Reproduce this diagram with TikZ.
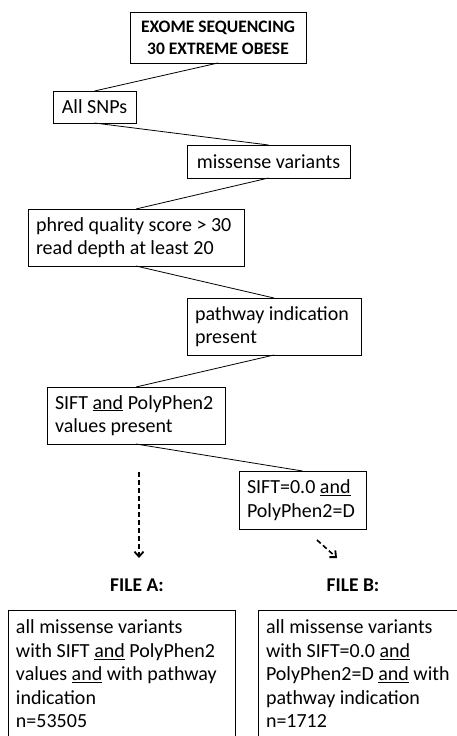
\documentclass[tikz,border=0pt]{standalone}
\usepackage{fontspec}
\setmainfont{Carlito}
\usetikzlibrary{arrows.meta, positioning}

\begin{document}
\begin{tikzpicture}[x=1pt, y=-1pt, outer sep=0pt, font=\fontsize{20}{23.5}\selectfont]

\tikzstyle{box}=[rectangle,draw,line width=0.8pt,anchor=north west,align=flush left,inner xsep=8pt,inner ysep=0pt]
\tikzstyle{stepbox}=[box,minimum height=57pt]
\tikzstyle{filebox}=[box,minimum height=128pt,font=\fontsize{20}{23.5}\selectfont]
\tikzstyle{flow}=[line width=0.8pt]
\tikzstyle{dasharrow}=[line width=1.6pt,dash pattern=on 5pt off 3pt,-{Straight Barb[length=5pt,width=9pt,line width=1.8pt]}]
\tikzstyle{filelabel}=[font=\fontsize{19.5}{22}\selectfont\bfseries]

\path[use as bounding box,clip] (0,0) rectangle (457,736);

\node[box,align=center,minimum width=176pt,minimum height=51pt,font=\fontsize{17.5}{22}\selectfont\bfseries] (exome) at (130,12) {EXOME SEQUENCING\\30 EXTREME OBESE};
\node[box,minimum width=83pt,minimum height=32pt] (snps) at (53,91) {All SNPs};
\node[box,minimum width=163pt,minimum height=33pt] (missense) at (187,145) {missense variants};
\node[stepbox,text width=200pt] (quality) at (28,209) {phred quality score > 30\\read depth at least 20};
\node[stepbox,text width=158pt] (pathway) at (187,298) {pathway indication\\present};
\node[stepbox,text width=162pt] (values) at (47,387) {SIFT \underline{and} PolyPhen2\\values present};
\node[stepbox,minimum height=58pt,text width=111pt] (damaging) at (239,471) {SIFT=0.0 \underline{and}\\PolyPhen2=D};

\node[filelabel] (filealabel) at (137,585) {FILE A:};
\node[filelabel] (fileblabel) at (353,585) {FILE B:};
\node[filebox,text width=211pt] (filea) at (8,610) {all missense variants\\with SIFT \underline{and} PolyPhen2\\values \underline{and} with pathway\\indication\\n=53505};
\node[filebox,text width=211pt] (fileb) at (258,610) {all missense variants\\with SIFT=0.0 \underline{and}\\PolyPhen2=D \underline{and} with\\pathway indication\\n=1712};

\draw[flow] (exome.south) -- (snps.north);
\draw[flow] (snps.south) -- (missense.north);
\draw[flow] (missense.south) -- (quality.north);
\draw[flow] (quality.south) -- (pathway.north);
\draw[flow] (pathway.south) -- (values.north);
\draw[flow] (values.south) -- (damaging.north);

\coordinate (astart) at (139,472);
\coordinate (aend) at (139,558);
\coordinate (bstart) at (317,540);
\coordinate (bend) at (337,558);
\draw[dasharrow] (astart) -- (aend);
\draw[dasharrow] (bstart) -- (bend);
\end{tikzpicture}
\end{document}
